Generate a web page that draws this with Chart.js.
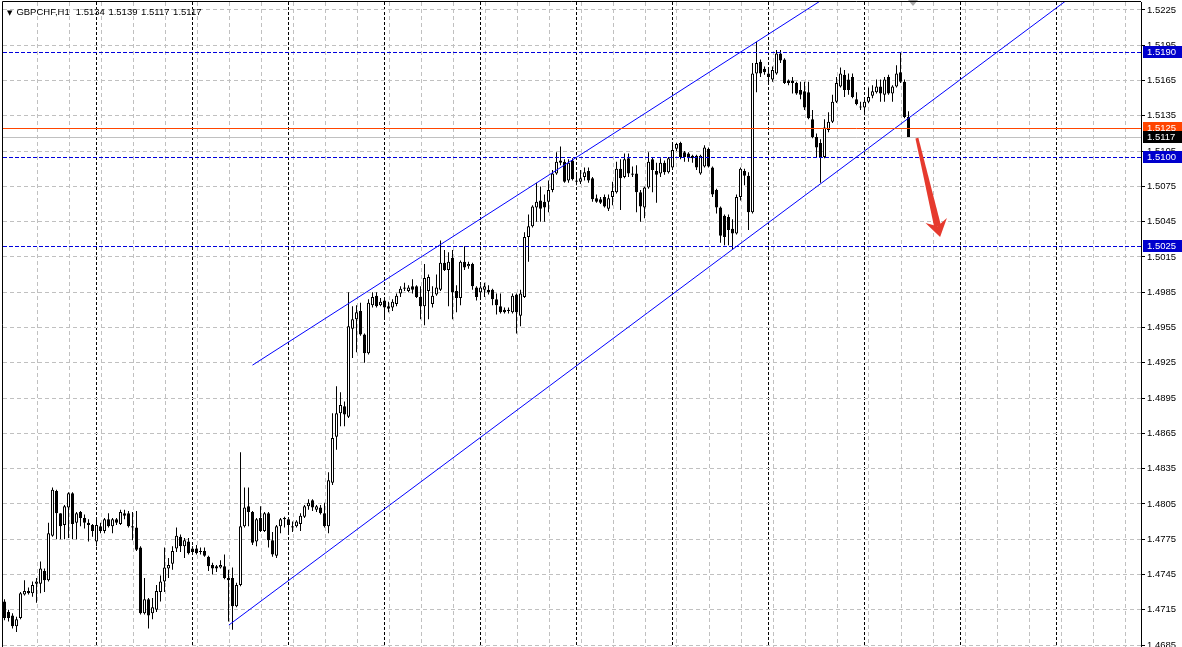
<!DOCTYPE html>
<html>
<head>
<meta charset="utf-8">
<script src="https://cdn.jsdelivr.net/npm/chart.js@4.4.1/dist/chart.umd.min.js"></script>
<style>
html, body { margin: 0; padding: 0; background: #fff; }
#wrap { position: relative; width: 1182px; height: 647px; overflow: hidden; }
#title { position: absolute; left: 7px; top: 7px; font: 9.5px "Liberation Sans", "DejaVu Sans", sans-serif; color: #000; white-space: pre; line-height: 10px; }
#title .tri { font: 7px "DejaVu Sans", sans-serif; margin-right: 4px; }
#title .ohlc { margin-left: 6px; word-spacing: 1px; }
</style>
</head>
<body>
<div id="wrap">
  <canvas id="priceChart" width="1182" height="647"></canvas>
  <div id="title"><span class="tri">▼</span>GBPCHF,H1<span class="ohlc" id="ohlc"></span></div>
</div>
<script>
// GBPCHF H1 candles (oldest first)
const opens = [
  1.4722,1.4713,1.4710,1.4701,1.4708,1.4728,1.4731,1.4729,1.4737,1.4737,1.4748,1.4740,
  1.4778,1.4816,1.4797,1.4787,1.4802,1.4814,1.4789,1.4798,1.4793,1.4789,1.4787,1.4773,
  1.4786,1.4782,1.4792,1.4786,1.4792,1.4788,1.4797,1.4797,1.4786,1.4785,1.4768,1.4712,
  1.4724,1.4712,1.4715,1.4730,1.4739,1.4750,1.4754,1.4767,1.4777,1.4769,1.4773,1.4767,
  1.4767,1.4765,1.4765,1.4760,1.4753,1.4752,1.4751,1.4752,1.4742,1.4742,1.4718,1.4736,
  1.4786,1.4803,1.4798,1.4773,1.4793,1.4782,1.4797,1.4774,1.4761,1.4786,1.4792,1.4792,
  1.4786,1.4786,1.4788,1.4794,1.4803,1.4808,1.4800,1.4802,1.4797,1.4786,1.4823,1.4862,
  1.4882,1.4888,1.4879,1.4954,1.4962,1.4969,1.4949,1.4933,1.4974,1.4982,1.4974,1.4978,
  1.4973,1.4972,1.4975,1.4984,1.4989,1.4986,1.4990,1.4990,1.4981,1.4973,1.4986,1.4975,
  1.4983,1.4987,1.5010,1.5004,1.5014,1.4986,1.4980,1.5011,1.5007,1.5009,1.4989,1.4985,
  1.4987,1.4987,1.4987,1.4979,1.4973,1.4970,1.4970,1.4968,1.4983,1.4965,1.4981,1.5032,
  1.5041,1.5057,1.5063,1.5062,1.5062,1.5072,1.5086,1.5097,1.5096,1.5080,1.5097,1.5080,
  1.5079,1.5083,1.5088,1.5082,1.5065,1.5064,1.5066,1.5056,1.5066,1.5070,1.5090,1.5083,
  1.5099,1.5086,1.5086,1.5070,1.5057,1.5074,1.5098,1.5088,1.5086,1.5095,1.5087,1.5091,
  1.5107,1.5112,1.5104,1.5103,1.5101,1.5101,1.5086,1.5092,1.5107,1.5091,1.5072,1.5057,
  1.5050,1.5049,1.5039,1.5035,1.5066,1.5088,1.5084,1.5053,1.5171,1.5181,1.5175,1.5171,
  1.5166,1.5171,1.5188,1.5183,1.5165,1.5165,1.5163,1.5157,1.5156,1.5155,1.5132,1.5117,
  1.5112,1.5100,1.5123,1.5130,1.5147,1.5160,1.5170,1.5166,1.5168,1.5149,1.5143,1.5142,
  1.5147,1.5152,1.5155,1.5160,1.5153,1.5168,1.5154,1.5160,1.5172,1.5164,1.5134
];
const highs = [
  1.4724,1.4715,1.4712,1.4709,1.4730,1.4740,1.4734,1.4739,1.4742,1.4756,1.4750,1.4789,
  1.4819,1.4817,1.4797,1.4804,1.4815,1.4815,1.4798,1.4799,1.4796,1.4792,1.4788,1.4792,
  1.4789,1.4793,1.4797,1.4793,1.4793,1.4800,1.4800,1.4799,1.4798,1.4799,1.4769,1.4742,
  1.4725,1.4725,1.4736,1.4744,1.4768,1.4759,1.4769,1.4785,1.4779,1.4776,1.4776,1.4769,
  1.4770,1.4768,1.4768,1.4761,1.4755,1.4753,1.4757,1.4762,1.4749,1.4751,1.4738,1.4849,
  1.4819,1.4819,1.4799,1.4793,1.4803,1.4798,1.4798,1.4781,1.4787,1.4793,1.4794,1.4793,
  1.4790,1.4791,1.4797,1.4804,1.4809,1.4809,1.4804,1.4804,1.4806,1.4832,1.4882,1.4905,
  1.4900,1.4892,1.4985,1.4973,1.4974,1.4976,1.4950,1.4979,1.4985,1.4985,1.4980,1.4981,
  1.4977,1.4979,1.4984,1.4990,1.4993,1.4991,1.4996,1.4991,1.4990,1.5009,1.5000,1.4990,
  1.5000,1.5029,1.5021,1.5019,1.5021,1.4991,1.5012,1.5024,1.5011,1.5010,1.4990,1.4991,
  1.4993,1.4991,1.4988,1.4984,1.4984,1.4972,1.4972,1.4984,1.4984,1.4987,1.5036,1.5051,
  1.5059,1.5078,1.5075,1.5068,1.5080,1.5089,1.5104,1.5109,1.5098,1.5098,1.5099,1.5087,
  1.5089,1.5091,1.5091,1.5083,1.5068,1.5066,1.5068,1.5068,1.5079,1.5096,1.5098,1.5103,
  1.5103,1.5092,1.5093,1.5072,1.5075,1.5104,1.5100,1.5095,1.5099,1.5097,1.5100,1.5112,
  1.5112,1.5113,1.5105,1.5104,1.5102,1.5102,1.5102,1.5110,1.5108,1.5092,1.5073,1.5058,
  1.5051,1.5051,1.5047,1.5068,1.5091,1.5090,1.5087,1.5180,1.5198,1.5183,1.5177,1.5174,
  1.5177,1.5191,1.5191,1.5184,1.5166,1.5168,1.5164,1.5164,1.5164,1.5164,1.5140,1.5120,
  1.5115,1.5132,1.5138,1.5153,1.5168,1.5176,1.5174,1.5171,1.5171,1.5155,1.5147,1.5150,
  1.5159,1.5161,1.5166,1.5166,1.5168,1.5170,1.5161,1.5178,1.5189,1.5166,1.5139
];
const lows = [
  1.4706,1.4705,1.4699,1.4696,1.4707,1.4727,1.4728,1.4726,1.4721,1.4729,1.4730,1.4739,
  1.4777,1.4775,1.4775,1.4775,1.4776,1.4775,1.4775,1.4786,1.4784,1.4773,1.4777,1.4769,
  1.4780,1.4780,1.4785,1.4780,1.4787,1.4787,1.4792,1.4785,1.4774,1.4765,1.4711,1.4711,
  1.4699,1.4707,1.4713,1.4722,1.4730,1.4742,1.4749,1.4764,1.4764,1.4759,1.4762,1.4762,
  1.4762,1.4762,1.4760,1.4748,1.4745,1.4747,1.4750,1.4741,1.4705,1.4698,1.4717,1.4735,
  1.4785,1.4786,1.4770,1.4769,1.4781,1.4781,1.4768,1.4760,1.4759,1.4780,1.4785,1.4780,
  1.4781,1.4785,1.4782,1.4793,1.4800,1.4799,1.4798,1.4796,1.4785,1.4780,1.4821,1.4851,
  1.4871,1.4871,1.4878,1.4929,1.4934,1.4948,1.4925,1.4932,1.4972,1.4972,1.4973,1.4963,
  1.4968,1.4969,1.4973,1.4981,1.4986,1.4985,1.4984,1.4980,1.4962,1.4957,1.4962,1.4972,
  1.4982,1.4986,1.5003,1.4973,1.4962,1.4968,1.4974,1.5004,1.5005,1.4987,1.4978,1.4979,
  1.4981,1.4983,1.4974,1.4966,1.4967,1.4967,1.4967,1.4967,1.4950,1.4956,1.4980,1.5011,
  1.5040,1.5045,1.5045,1.5045,1.5053,1.5070,1.5085,1.5093,1.5078,1.5078,1.5080,1.5076,
  1.5077,1.5080,1.5078,1.5062,1.5061,1.5060,1.5057,1.5054,1.5059,1.5069,1.5055,1.5082,
  1.5083,1.5083,1.5053,1.5045,1.5048,1.5073,1.5070,1.5061,1.5083,1.5085,1.5086,1.5090,
  1.5105,1.5098,1.5096,1.5096,1.5095,1.5089,1.5085,1.5091,1.5091,1.5066,1.5052,1.5027,
  1.5025,1.5025,1.5021,1.5034,1.5063,1.5076,1.5038,1.5052,1.5155,1.5168,1.5170,1.5163,
  1.5164,1.5170,1.5180,1.5162,1.5161,1.5154,1.5153,1.5149,1.5140,1.5132,1.5116,1.5100,
  1.5078,1.5099,1.5121,1.5129,1.5146,1.5159,1.5151,1.5153,1.5150,1.5144,1.5140,1.5137,
  1.5146,1.5150,1.5154,1.5147,1.5147,1.5153,1.5147,1.5159,1.5163,1.5133,1.5117
];
const closes = [
  1.4708,1.4708,1.4701,1.4707,1.4729,1.4731,1.4729,1.4736,1.4739,1.4750,1.4740,1.4780,
  1.4817,1.4797,1.4786,1.4803,1.4814,1.4788,1.4797,1.4793,1.4789,1.4787,1.4782,1.4787,
  1.4782,1.4792,1.4786,1.4792,1.4789,1.4798,1.4795,1.4786,1.4785,1.4766,1.4712,1.4724,
  1.4710,1.4717,1.4731,1.4739,1.4751,1.4753,1.4765,1.4778,1.4769,1.4774,1.4763,1.4764,
  1.4763,1.4764,1.4761,1.4752,1.4750,1.4750,1.4753,1.4742,1.4740,1.4718,1.4736,1.4786,
  1.4802,1.4798,1.4772,1.4792,1.4782,1.4797,1.4774,1.4762,1.4786,1.4792,1.4793,1.4787,
  1.4785,1.4790,1.4795,1.4803,1.4806,1.4802,1.4803,1.4797,1.4786,1.4825,1.4861,1.4882,
  1.4889,1.4881,1.4956,1.4962,1.4968,1.4949,1.4933,1.4976,1.4981,1.4973,1.4977,1.4972,
  1.4971,1.4977,1.4982,1.4988,1.4988,1.4989,1.4987,1.4981,1.4973,1.4997,1.4998,1.4982,
  1.4989,1.5010,1.5004,1.5011,1.4985,1.4980,1.5011,1.5006,1.5009,1.4990,1.4981,1.4989,
  1.4990,1.4985,1.4979,1.4974,1.4968,1.4968,1.4969,1.4982,1.4968,1.4984,1.5032,1.5041,
  1.5058,1.5062,1.5056,1.5057,1.5072,1.5086,1.5096,1.5095,1.5079,1.5095,1.5081,1.5079,
  1.5082,1.5087,1.5080,1.5064,1.5062,1.5061,1.5058,1.5065,1.5071,1.5090,1.5082,1.5098,
  1.5086,1.5085,1.5070,1.5058,1.5074,1.5096,1.5089,1.5085,1.5095,1.5087,1.5099,1.5106,
  1.5111,1.5100,1.5100,1.5099,1.5099,1.5091,1.5101,1.5108,1.5092,1.5068,1.5057,1.5033,
  1.5032,1.5038,1.5035,1.5066,1.5090,1.5084,1.5053,1.5171,1.5180,1.5171,1.5172,1.5168,
  1.5174,1.5188,1.5182,1.5163,1.5163,1.5163,1.5154,1.5153,1.5142,1.5133,1.5117,1.5108,
  1.5100,1.5125,1.5130,1.5147,1.5163,1.5171,1.5157,1.5157,1.5151,1.5145,1.5142,1.5147,
  1.5151,1.5156,1.5160,1.5154,1.5166,1.5154,1.5160,1.5171,1.5164,1.5134,1.5117
];

// price axis labels
const priceTicks = [1.5225, 1.5195, 1.5165, 1.5135, 1.5105, 1.5075, 1.5045, 1.5015, 1.4985, 1.4955,
  1.4925, 1.4895, 1.4865, 1.4835, 1.4805, 1.4775, 1.4745, 1.4715, 1.4685];

// horizontal levels drawn on the chart
const levelPrices = [1.5190, 1.5100, 1.5025];
const orangePrice = 1.5125;
const bidPrice = 1.5117;

// trend channel anchors [bar index, price]
const upperChannel = [[62.0, 1.4923], [205.0, 1.5235]];
const lowerChannel = [[56.1, 1.4702], [267.0, 1.5237]];

// hand drawn arrow [bar index, price]
const arrowFrom = [228.1, 1.5116];
const arrowTo = [233.9, 1.5032];

// boxes on the price scale
const boxPrices = [1.5190, 1.5100, 1.5025, 1.5125, 1.5117];
const boxColors = ['#0000cd', '#0000cd', '#0000cd', '#ff4500', '#000000'];

const X_MIN = -0.375, X_MAX = 284.125;
const Y_MIN = 1.46833, Y_MAX = 1.52318;
const FONT = '"Liberation Sans", "DejaVu Sans", sans-serif';

const last = closes.length - 1;
document.getElementById('ohlc').textContent =
  [opens[last], highs[last], lows[last], closes[last]].map(v => v.toFixed(4)).join(' ');

const bodies = opens.map((o, i) => ({ x: i, y: [Math.min(o, closes[i]), Math.max(o, closes[i])] }));
const wicks = opens.map((o, i) => ({ x: i, y: [lows[i], highs[i]] }));

// grid: light dashed columns every 8 bars, dark day separators every 24 bars
const gridCols = [];
for (let k = 0; k < 35; k++) gridCols.push(8.125 + 8 * k);
const dayCols = [];
for (let m = 1; m < 12; m++) dayCols.push(24 * m - 1);

function trendLine(pts) {
    return {
        type: 'line',
        data: pts.map(p => ({ x: p[0], y: p[1] })),
        borderColor: '#0000ff',
        borderWidth: 1,
        pointRadius: 0,
        fill: false,
        order: 0
    };
}

// no room reserved for labels: the plot runs edge to edge like the terminal
function noPad(s) {
    s.paddingTop = 0;
    s.paddingBottom = 0;
    s.paddingLeft = 0;
    s.paddingRight = 0;
}

// horizontal price level across the plot, snapped to a pixel row
function drawLevel(chart, price, color, dash) {
    const { ctx, chartArea, scales: { y } } = chart;
    const py = Math.round(y.getPixelForValue(price) + 0.4) + 0.5;
    ctx.save();
    ctx.strokeStyle = color;
    ctx.lineWidth = 1;
    ctx.setLineDash(dash);
    ctx.beginPath();
    ctx.moveTo(chartArea.left, py);
    ctx.lineTo(chartArea.right, py);
    ctx.stroke();
    ctx.restore();
}

const overlay = {
    id: 'mtOverlay',
    beforeDatasetsDraw(chart) {
        drawLevel(chart, bidPrice, '#c0c0c0', []);
    },
    afterDatasetsDraw(chart) {
        levelPrices.forEach(p => drawLevel(chart, p, '#0000dd', [4, 2]));
        drawLevel(chart, orangePrice, '#ff4500', []);

        const { ctx, scales: { x, y } } = chart;
        // red arrow
        const p1 = { x: x.getPixelForValue(arrowFrom[0]), y: y.getPixelForValue(arrowFrom[1]) };
        const p2 = { x: x.getPixelForValue(arrowTo[0]), y: y.getPixelForValue(arrowTo[1]) };
        const dx = p2.x - p1.x, dy = p2.y - p1.y, len = Math.hypot(dx, dy);
        const ux = dx / len, uy = dy / len, nx = -uy, ny = ux;
        const notch = { x: p2.x - ux * 11, y: p2.y - uy * 11 };
        const wing = { x: p2.x - ux * 17, y: p2.y - uy * 17 };
        ctx.save();
        ctx.fillStyle = '#e63a2e';
        ctx.beginPath();
        ctx.moveTo(p1.x + nx * 1.5, p1.y + ny * 1.5);
        ctx.lineTo(notch.x + nx * 3.5, notch.y + ny * 3.5);
        ctx.lineTo(notch.x - nx * 3.5, notch.y - ny * 3.5);
        ctx.lineTo(p1.x - nx * 1.5, p1.y - ny * 1.5);
        ctx.closePath();
        ctx.fill();
        ctx.beginPath();
        ctx.moveTo(p2.x, p2.y);
        ctx.lineTo(wing.x + nx * 11, wing.y + ny * 11);
        ctx.lineTo(notch.x, notch.y);
        ctx.lineTo(wing.x - nx * 11, wing.y - ny * 11);
        ctx.closePath();
        ctx.fill();
        ctx.restore();
    },
    afterDraw(chart) {
        const { ctx, chartArea, scales: { x, y } } = chart;
        ctx.save();
        // price boxes
        ctx.font = '9.5px ' + FONT;
        ctx.textBaseline = 'middle';
        boxPrices.forEach((p, i) => {
            const py = Math.round(y.getPixelForValue(p) + 0.4);
            ctx.fillStyle = boxColors[i];
            ctx.fillRect(chartArea.right + 2, py - 6, 40, 12);
            ctx.fillStyle = '#fff';
            ctx.fillText(p.toFixed(4), chartArea.right + 6, py + 0.5);
        });
        // chart shift marker
        const cx = Math.round(x.getPixelForValue(last + 1));
        ctx.fillStyle = '#a8a8a8';
        ctx.beginPath();
        ctx.moveTo(cx - 5, 0);
        ctx.lineTo(cx + 5, 0);
        ctx.lineTo(cx, 6);
        ctx.closePath();
        ctx.fill();
        // frame
        ctx.strokeStyle = '#000';
        ctx.lineWidth = 1;
        ctx.beginPath();
        ctx.moveTo(2.5, chart.height);
        ctx.lineTo(2.5, 1.5);
        ctx.lineTo(chartArea.right, 1.5);
        ctx.stroke();
        ctx.restore();
    }
};

const ctx = document.getElementById('priceChart').getContext('2d');
new Chart(ctx, {
    type: 'bar',
    data: {
        datasets: [
            trendLine(upperChannel),
            trendLine(lowerChannel),
            {
                data: bodies,
                backgroundColor: c => closes[c.dataIndex] >= opens[c.dataIndex] ? '#ffffff' : '#000000',
                borderColor: '#000000',
                borderWidth: 1,
                borderSkipped: false,
                barThickness: 3,
                minBarLength: 1,
                inflateAmount: 0,
                grouped: false,
                order: 1
            },
            {
                data: wicks,
                backgroundColor: '#000000',
                borderWidth: 0,
                barThickness: 1,
                inflateAmount: 0,
                grouped: false,
                order: 2
            }
        ]
    },
    options: {
        responsive: false,
        animation: false,
        devicePixelRatio: 1,
        events: [],
        layout: { padding: { left: 3, top: 2, right: 0, bottom: 0 } },
        plugins: { legend: { display: false }, tooltip: { enabled: false }, title: { display: false } },
        scales: {
            x: {
                type: 'linear', position: 'bottom', min: X_MIN, max: X_MAX, offset: false,
                afterBuildTicks: s => { s.ticks = gridCols.map(v => ({ value: v })); },
                afterFit: s => { s.height = 0; noPad(s); },
                ticks: { display: false },
                grid: { color: '#c0c0c0', lineWidth: 1, drawTicks: false, offset: false },
                border: { display: false, dash: [4, 3] }
            },
            x2: {
                type: 'linear', position: 'bottom', min: X_MIN, max: X_MAX, offset: false,
                afterBuildTicks: s => { s.ticks = dayCols.map(v => ({ value: v })); },
                afterFit: s => { s.height = 0; noPad(s); },
                ticks: { display: false },
                grid: { color: '#000000', lineWidth: 1, drawTicks: false, offset: false },
                border: { display: false, dash: [3, 2] }
            },
            y: {
                type: 'linear', position: 'right', min: Y_MIN, max: Y_MAX,
                afterBuildTicks: s => { s.ticks = priceTicks.map(v => ({ value: v })); },
                afterFit: s => { s.width = 41; noPad(s); },
                ticks: {
                    autoSkip: false, padding: 2, color: '#000',
                    font: { family: FONT, size: 9.5 },
                    callback: v => v.toFixed(4)
                },
                grid: { color: '#c0c0c0', lineWidth: 1, tickLength: 4, tickColor: '#000', tickWidth: 1 },
                border: { display: true, color: '#000', width: 1, dash: [4, 3] }
            }
        }
    },
    plugins: [overlay]
});
</script>
</body>
</html>
